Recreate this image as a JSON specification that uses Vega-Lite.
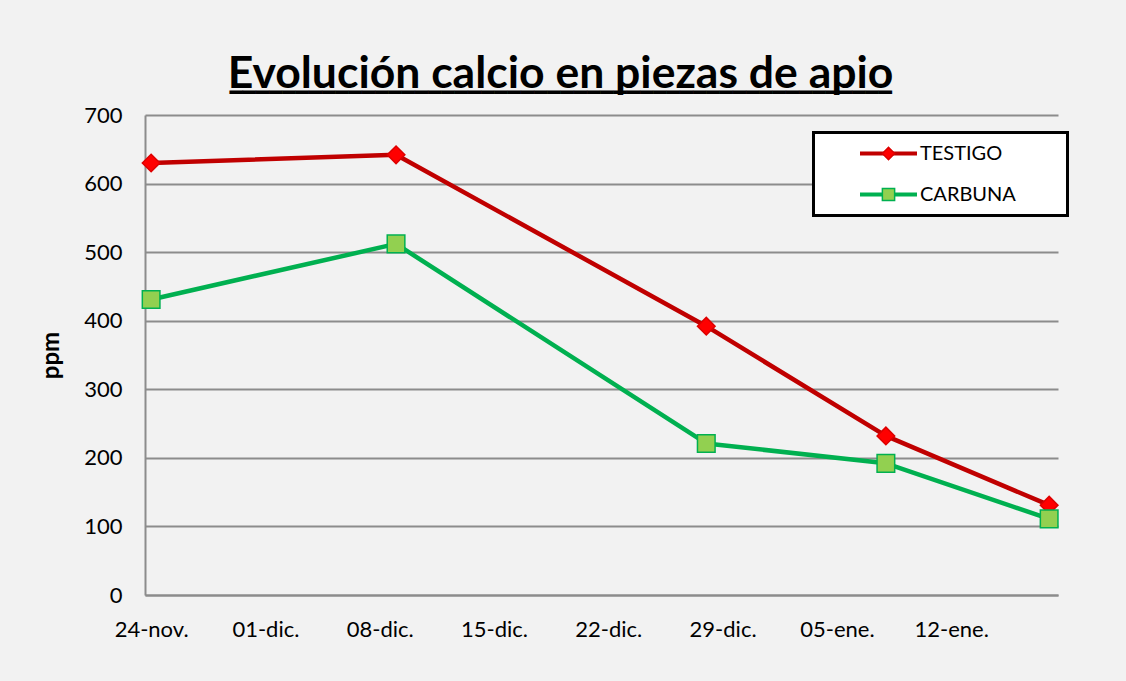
{
  "$schema": "https://vega.github.io/schema/vega-lite/v6.json",
  "width": 913,
  "height": 480,
  "autosize": {"type": "none"},
  "padding": {"left": 145, "top": 115, "right": 68, "bottom": 86},
  "background": "#f2f2f2",
  "title": {
    "text": "Evolución calcio en piezas de apio",
    "subtitle": "━━━━━━━━━━━━━━━━━━━━━━━━━━━━━━━━━━━━━━━━━━━━━━━━━━",
    "font": "Lato",
    "fontSize": 44.5,
    "fontWeight": "bold",
    "color": "#000000",
    "subtitleFont": "DejaVu Sans Mono",
    "subtitleFontSize": 22,
    "subtitleColor": "#000000",
    "subtitlePadding": -14,
    "anchor": "middle",
    "dx": -41,
    "offset": -1
  },
  "data": {
    "values": [
      {"fecha": "2012/11/24", "serie": "TESTIGO", "ppm": 630},
      {"fecha": "2012/12/09", "serie": "TESTIGO", "ppm": 642},
      {"fecha": "2012/12/28", "serie": "TESTIGO", "ppm": 392},
      {"fecha": "2013/01/08", "serie": "TESTIGO", "ppm": 232},
      {"fecha": "2013/01/18", "serie": "TESTIGO", "ppm": 131},
      {"fecha": "2012/11/24", "serie": "CARBUNA", "ppm": 431},
      {"fecha": "2012/12/09", "serie": "CARBUNA", "ppm": 512},
      {"fecha": "2012/12/28", "serie": "CARBUNA", "ppm": 221},
      {"fecha": "2013/01/08", "serie": "CARBUNA", "ppm": 192},
      {"fecha": "2013/01/18", "serie": "CARBUNA", "ppm": 111}
    ]
  },
  "encoding": {
    "x": {
      "field": "fecha",
      "type": "temporal",
      "scale": {
        "domain": [
          {"year": 2012, "month": 11, "date": 23, "hours": 15},
          {"year": 2013, "month": 1, "date": 18, "hours": 13}
        ],
        "nice": false
      },
      "axis": {
        "values": [
          {"year": 2012, "month": 11, "date": 24},
          {"year": 2012, "month": 12, "date": 1},
          {"year": 2012, "month": 12, "date": 8},
          {"year": 2012, "month": 12, "date": 15},
          {"year": 2012, "month": 12, "date": 22},
          {"year": 2012, "month": 12, "date": 29},
          {"year": 2013, "month": 1, "date": 5},
          {"year": 2013, "month": 1, "date": 12}
        ],
        "labelExpr": "timeFormat(datum.value, '%d') + '-' + ['ene','feb','mar','abr','may','jun','jul','ago','sep','oct','nov','dic'][month(datum.value)] + '.'",
        "title": null,
        "grid": false,
        "ticks": false,
        "domainColor": "#8c8c8c",
        "domainWidth": 2,
        "labelFont": "Lato",
        "labelFontSize": 22,
        "labelColor": "#000000",
        "labelPadding": 24,
        "labelAngle": 0,
        "labelOverlap": false,
        "labelFlush": false
      }
    },
    "y": {
      "field": "ppm",
      "type": "quantitative",
      "scale": {"domain": [0, 700], "nice": false},
      "axis": {
        "values": [0, 100, 200, 300, 400, 500, 600, 700],
        "title": "ppm",
        "titleFont": "Lato",
        "titleFontSize": 24,
        "titleFontWeight": "bold",
        "titleColor": "#000000",
        "titlePadding": 20,
        "grid": true,
        "gridColor": "#8c8c8c",
        "gridWidth": 2,
        "ticks": false,
        "domainColor": "#8c8c8c",
        "domainWidth": 2,
        "labelFont": "Lato",
        "labelFontSize": 22,
        "labelColor": "#000000",
        "labelPadding": 23
      }
    }
  },
  "layer": [
    {
      "mark": {"type": "line", "strokeWidth": 4.5, "strokeCap": "round", "strokeJoin": "round"},
      "encoding": {
        "color": {
          "field": "serie",
          "type": "nominal",
          "scale": {"domain": ["TESTIGO", "CARBUNA"], "range": ["#c00000", "#00b050"]},
          "legend": {
            "orient": "none",
            "legendX": 668.5,
            "legendY": 17.5,
            "title": "W",
            "titleOrient": "right",
            "titleColor": "transparent",
            "titleFontSize": 20,
            "titlePadding": 19,
            "symbolType": "stroke",
            "symbolSize": 3249,
            "symbolStrokeWidth": 4,
            "clipHeight": 20,
            "rowPadding": 21,
            "padding": 11,
            "symbolOffset": 33.5,
            "labelOffset": 1,
            "labelFont": "Lato",
            "labelFontSize": 20,
            "labelColor": "#000000",
            "fillColor": "#ffffff",
            "strokeColor": "#000000",
            "encode": {"legend": {"update": {"strokeWidth": {"value": 3}}}}
          }
        }
      }
    },
    {
      "mark": {"type": "point", "filled": true, "size": 310, "strokeWidth": 1.5, "opacity": 1},
      "encoding": {
        "fill": {
          "field": "serie",
          "type": "nominal",
          "sort": "descending",
          "scale": {"range": ["#ff0000", "#92d050"]},
          "legend": {
            "orient": "none",
            "legendX": 668.5,
            "legendY": 17.5,
            "title": null,
            "symbolSize": 150,
            "symbolStrokeWidth": 1.5,
            "symbolOpacity": 1,
            "clipHeight": 20,
            "rowPadding": 21,
            "padding": 11,
            "symbolOffset": 54,
            "labelFont": "Lato",
            "labelFontSize": 20,
            "labelColor": "transparent"
          }
        },
        "shape": {
          "field": "serie",
          "type": "nominal",
          "sort": "descending",
          "scale": {"range": ["diamond", "square"]}
        },
        "stroke": {
          "field": "serie",
          "type": "nominal",
          "sort": "descending",
          "scale": {"range": ["#dd0000", "#00b050"]}
        }
      }
    }
  ],
  "config": {
    "font": "Lato",
    "view": {"stroke": null}
  }
}
